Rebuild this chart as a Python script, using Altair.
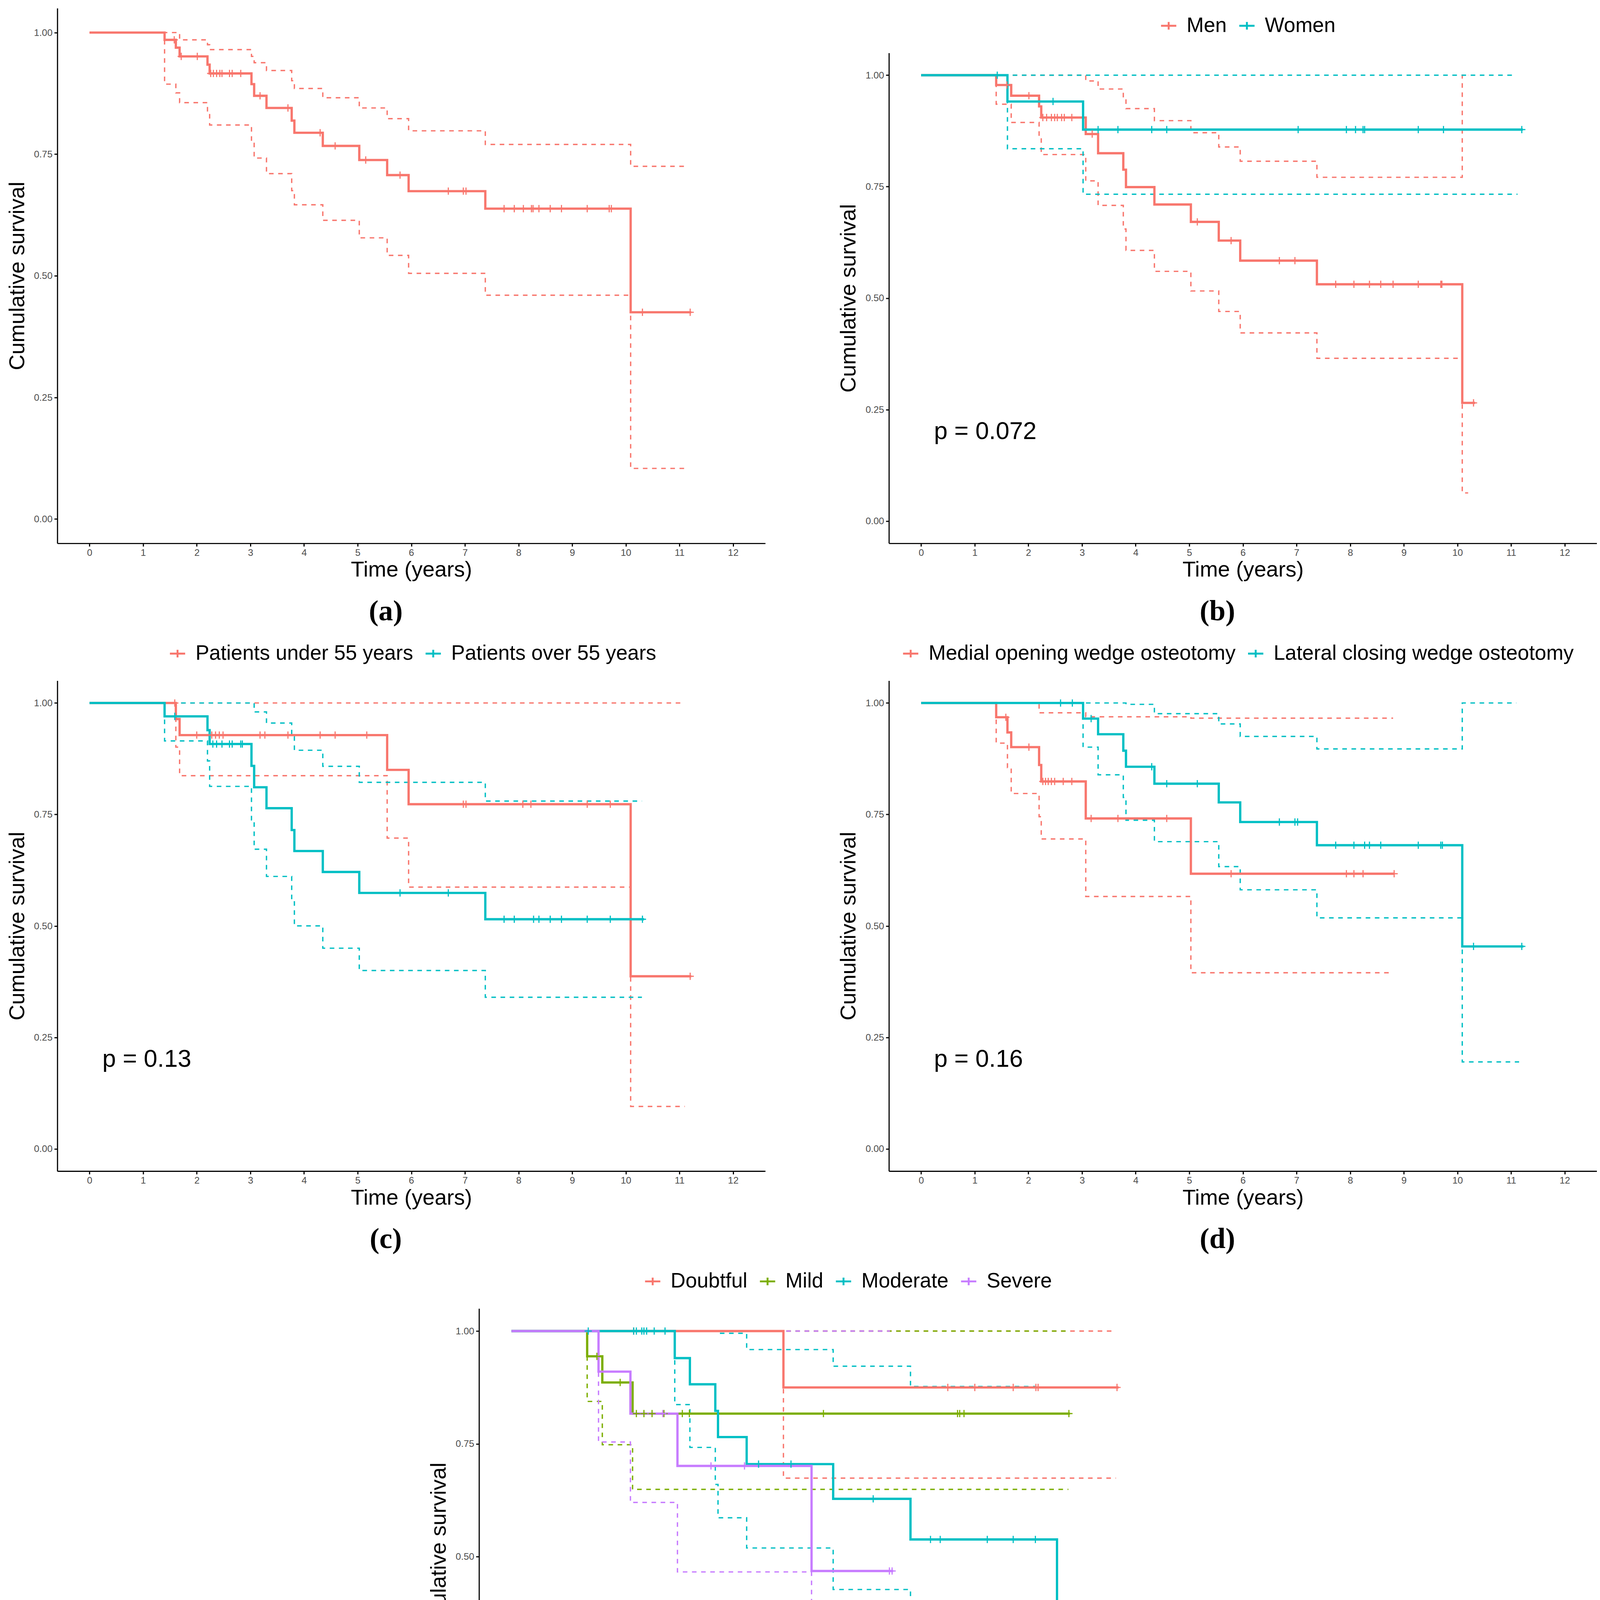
import altair as alt
import pandas as pd

FONT = "Liberation Sans"
SERIF = "Liberation Serif"
RED, GREEN, CYAN, PURPLE = "#F8766D", "#7CAE00", "#00BFC4", "#C77CFF"

# ---------------- Panel (a): whole cohort ----------------
a_t = [0, 1.40, 1.61, 1.68, 2.20, 2.24, 3.02, 3.07, 3.30, 3.77, 3.82, 4.35, 5.03, 5.55, 5.95, 7.38, 10.09, 11.22]
a_s = [1.0, 0.985, 0.969, 0.951, 0.934, 0.916, 0.894, 0.870, 0.845, 0.819, 0.794, 0.767, 0.738, 0.707, 0.674, 0.638, 0.425, 0.425]
a_cens = [1.58, 1.71, 2.01, 2.26, 2.31, 2.37, 2.43, 2.47, 2.61, 2.66, 2.82, 3.18, 3.70, 4.30, 4.58, 5.15, 5.79,
          6.69, 6.97, 7.02, 7.73, 7.92, 8.09, 8.24, 8.27, 8.38, 8.59, 8.80, 9.28, 9.69, 9.73, 10.31, 11.20]
a_up_t = [0, 1.61, 1.68, 2.20, 2.24, 3.02, 3.07, 3.30, 3.77, 3.82, 4.35, 5.03, 5.55, 5.95, 7.38, 10.09, 11.10]
a_up_s = [1.0, 0.997, 0.985, 0.975, 0.965, 0.951, 0.938, 0.922, 0.901, 0.885, 0.866, 0.845, 0.823, 0.798, 0.770, 0.725, 0.725]
a_lo_t = [0, 1.40, 1.61, 1.68, 2.20, 2.24, 3.02, 3.07, 3.30, 3.77, 3.82, 4.35, 5.03, 5.55, 5.95, 7.38, 10.09, 11.10]
a_lo_s = [1.0, 0.894, 0.876, 0.856, 0.835, 0.810, 0.775, 0.742, 0.710, 0.675, 0.646, 0.614, 0.578, 0.542, 0.505, 0.460, 0.104, 0.104]

# ---------------- Panel (b): sex ----------------
b_men_t = [0, 1.40, 1.68, 2.20, 2.24, 3.07, 3.30, 3.77, 3.82, 4.35, 5.03, 5.55, 5.95, 7.38, 10.09, 10.33]
b_men_s = [1.0, 0.978, 0.954, 0.930, 0.905, 0.868, 0.825, 0.788, 0.749, 0.710, 0.671, 0.629, 0.584, 0.531, 0.265, 0.265]
b_men_cens = [1.60, 2.01, 2.27, 2.34, 2.43, 2.49, 2.54, 2.62, 2.67, 2.81, 3.19, 5.15, 5.78, 6.68, 6.97,
              7.73, 8.07, 8.36, 8.57, 8.80, 9.27, 9.69, 9.71, 10.30]
b_men_up_t = [0, 3.07, 3.30, 3.77, 3.82, 4.35, 5.03, 5.55, 5.95, 7.38, 10.09, 10.20]
b_men_up_s = [1.0, 0.987, 0.969, 0.950, 0.925, 0.898, 0.871, 0.839, 0.807, 0.771, 1.0, 1.0]
b_men_lo_t = [0, 1.40, 1.68, 2.20, 2.24, 3.07, 3.30, 3.77, 3.82, 4.35, 5.03, 5.55, 5.95, 7.38, 10.09, 10.20]
b_men_lo_s = [1.0, 0.935, 0.894, 0.860, 0.822, 0.763, 0.708, 0.655, 0.607, 0.560, 0.516, 0.470, 0.422, 0.365, 0.063, 0.063]
b_wom_t = [0, 1.61, 3.02, 11.22]
b_wom_s = [1.0, 0.941, 0.878, 0.878]
b_wom_cens = [1.42, 2.46, 3.30, 3.67, 4.30, 4.58, 7.03, 7.93, 8.10, 8.24, 8.27, 9.27, 9.74, 11.20]
b_wom_up_t = [0, 11.10]
b_wom_up_s = [1.0, 1.0]
b_wom_lo_t = [0, 1.61, 3.02, 11.12]
b_wom_lo_s = [1.0, 0.835, 0.733, 0.733]

# ---------------- Panel (c): age ----------------
c_u55_t = [0, 1.61, 1.68, 5.55, 5.95, 10.09, 11.22]
c_u55_s = [1.0, 0.964, 0.928, 0.850, 0.773, 0.387, 0.387]
c_u55_cens = [1.59, 2.00, 2.28, 2.35, 2.42, 2.49, 3.18, 3.27, 3.70, 4.30, 4.58, 5.17, 6.97, 7.02, 8.08, 8.23,
              9.28, 9.71, 11.20]
c_u55_up_t = [0, 11.10]
c_u55_up_s = [1.0, 1.0]
c_u55_lo_t = [0, 1.61, 1.68, 5.55, 5.95, 10.09, 11.10]
c_u55_lo_s = [1.0, 0.901, 0.837, 0.697, 0.587, 0.095, 0.095]
c_o55_t = [0, 1.40, 2.20, 2.24, 3.02, 3.07, 3.30, 3.77, 3.82, 4.35, 5.03, 7.38, 10.34]
c_o55_s = [1.0, 0.970, 0.939, 0.908, 0.859, 0.811, 0.764, 0.715, 0.668, 0.621, 0.574, 0.515, 0.515]
c_o55_cens = [1.59, 2.30, 2.37, 2.47, 2.61, 2.66, 2.82, 2.85, 5.79, 6.69, 7.73, 7.92, 8.28, 8.38, 8.59, 8.80,
              9.28, 9.71, 10.31]
c_o55_up_t = [0, 3.07, 3.30, 3.77, 3.82, 4.35, 5.03, 7.38, 10.30]
c_o55_up_s = [1.0, 0.980, 0.955, 0.925, 0.894, 0.858, 0.822, 0.780, 0.780]
c_o55_lo_t = [0, 1.40, 2.20, 2.24, 3.02, 3.07, 3.30, 3.77, 3.82, 4.35, 5.03, 7.38, 10.30]
c_o55_lo_s = [1.0, 0.915, 0.870, 0.813, 0.738, 0.672, 0.611, 0.554, 0.500, 0.450, 0.400, 0.340, 0.340]

# ---------------- Panel (d): osteotomy type ----------------
d_med_t = [0, 1.40, 1.61, 1.68, 2.20, 2.24, 3.07, 5.03, 8.83]
d_med_s = [1.0, 0.968, 0.934, 0.901, 0.861, 0.824, 0.741, 0.617, 0.617]
d_med_cens = [1.58, 2.01, 2.27, 2.32, 2.37, 2.43, 2.49, 2.65, 2.81, 3.17, 3.67, 4.58, 5.78, 7.93, 8.07, 8.24, 8.82]
d_med_up_t = [0, 2.20, 3.07, 5.03, 8.80]
d_med_up_s = [1.0, 0.978, 0.969, 0.966, 0.966]
d_med_lo_t = [0, 1.40, 1.61, 1.68, 2.20, 2.24, 3.07, 5.03, 8.80]
d_med_lo_s = [1.0, 0.910, 0.855, 0.797, 0.745, 0.695, 0.566, 0.395, 0.395]
d_lat_t = [0, 3.02, 3.30, 3.77, 3.82, 4.35, 5.55, 5.95, 7.38, 10.09, 11.23]
d_lat_s = [1.0, 0.965, 0.930, 0.893, 0.857, 0.819, 0.777, 0.733, 0.681, 0.454, 0.454]
d_lat_cens = [2.60, 2.82, 3.17, 4.30, 4.58, 5.15, 6.68, 6.97, 7.02, 7.73, 8.07, 8.27, 8.36, 8.57, 9.27, 9.69,
              9.72, 10.30, 11.20]
d_lat_up_t = [0, 3.82, 4.35, 5.55, 5.95, 7.38, 10.09, 11.10]
d_lat_up_s = [1.0, 0.997, 0.976, 0.953, 0.925, 0.897, 1.0, 1.0]
d_lat_lo_t = [0, 3.02, 3.30, 3.77, 3.82, 4.35, 5.55, 5.95, 7.38, 10.09, 11.15]
d_lat_lo_s = [1.0, 0.901, 0.839, 0.788, 0.737, 0.689, 0.633, 0.581, 0.518, 0.195, 0.195]

# ---------------- Panel (e): arthrosis grade ----------------
e_dou_t = [0, 5.03, 11.23]
e_dou_s = [1.0, 0.875, 0.875]
e_dou_cens = [2.26, 8.07, 8.57, 9.28, 9.70, 9.74, 11.20]
e_dou_up_t = [0, 11.13]
e_dou_up_s = [1.0, 1.0]
e_dou_lo_t = [0, 5.03, 11.18]
e_dou_lo_s = [1.0, 0.674, 0.674]
e_mil_t = [0, 1.40, 1.68, 2.24, 10.33]
e_mil_s = [1.0, 0.944, 0.886, 0.817, 0.817]
e_mil_cens = [1.58, 2.01, 2.31, 2.45, 2.60, 2.82, 3.16, 3.29, 5.77, 8.25, 8.29, 8.37, 10.31]
e_mil_up_t = [0, 10.30]
e_mil_up_s = [1.0, 1.0]
e_mil_lo_t = [0, 1.40, 1.68, 2.24, 10.30]
e_mil_lo_s = [1.0, 0.844, 0.748, 0.649, 0.649]
e_mod_t = [0, 3.02, 3.30, 3.77, 3.82, 4.35, 5.95, 7.38, 10.09]
e_mod_s = [1.0, 0.940, 0.882, 0.823, 0.765, 0.705, 0.628, 0.538, 0.0]
e_mod_cens = [1.42, 2.26, 2.31, 2.41, 2.45, 2.50, 2.64, 2.84, 4.57, 5.17, 6.69, 7.75, 7.93, 8.80, 9.28, 9.69]
e_mod_up_t = [0, 3.82, 4.35, 5.95, 7.38, 9.69]
e_mod_up_s = [1.0, 0.995, 0.959, 0.922, 0.877, 0.877]
e_mod_lo_t = [0, 3.02, 3.30, 3.77, 3.82, 4.35, 5.95, 7.38, 9.69]
e_mod_lo_s = [1.0, 0.837, 0.742, 0.660, 0.586, 0.519, 0.427, 0.329, 0.329]
e_sev_t = [0, 1.61, 2.20, 3.07, 5.55, 7.06]
e_sev_s = [1.0, 0.910, 0.817, 0.701, 0.468, 0.468]
e_sev_cens = [2.80, 3.69, 4.31, 6.99, 7.04]
e_sev_up_t = [0, 7.00]
e_sev_up_s = [1.0, 1.0]
e_sev_lo_t = [0, 1.61, 2.20, 3.07, 5.55, 7.00]
e_sev_lo_s = [1.0, 0.754, 0.620, 0.466, 0.191, 0.191]

x_ticks = list(range(13))
y_ticks = [0.0, 0.25, 0.5, 0.75, 1.0]

CROSS = "M-1,0L1,0M0,-1L0,1"
LEG_SYM = "M-1,0L1,0M0,-0.5L0,0.5"
LEG_ROOM = 117   # room above the plot frame kept for the legend


def surv_at(ts, ss, t):
    v = ss[0]
    for ti, si in zip(ts, ss):
        if ti <= t:
            v = si
    return v


def series(name, color, t, s, cens, up_t, up_s, lo_t, lo_s):
    return dict(name=name, color=color, t=t, s=s, cens=cens,
                up_t=up_t, up_s=up_s, lo_t=lo_t, lo_s=lo_s)


def build(groups):
    cur, ci, cen = [], [], []
    for g in groups:
        for t, s in zip(g["t"], g["s"]):
            cur.append({"group": g["name"], "t": t, "s": s})
        for b, tt, sv in (("upper", g["up_t"], g["up_s"]), ("lower", g["lo_t"], g["lo_s"])):
            for t, s in zip(tt, sv):
                ci.append({"group": g["name"], "bound": b, "t": t, "s": s})
        for t in g["cens"]:
            cen.append({"group": g["name"], "t": t, "s": surv_at(g["t"], g["s"], t)})
    return pd.DataFrame(cur), pd.DataFrame(ci), pd.DataFrame(cen)


def panel(groups, width, height, label, pval=None, legend_x=None):
    cur, ci, cen = build(groups)
    names = [g["name"] for g in groups]
    cols = [g["color"] for g in groups]
    top = 0 if legend_x is None else LEG_ROOM
    x = alt.X("t:Q", scale=alt.Scale(domain=[-0.6, 12.6], nice=False, zero=False),
              axis=alt.Axis(values=x_ticks, format="d", title="Time (years)"))
    y = alt.Y("s:Q", scale=alt.Scale(domain=[-0.05, 1.05], nice=False, zero=False, range=[height, top]),
              axis=alt.Axis(values=y_ticks, format=".2f", title="Cumulative survival"))
    if legend_x is None:
        leg = None
    else:
        leg = alt.Legend(orient="none", legendX=legend_x, legendY=top - 98,
                         direction="horizontal", title=None, labelFont=FONT, labelFontSize=54,
                         labelColor="black", labelLimit=3000, symbolType=LEG_SYM, symbolSize=1600,
                         symbolStrokeWidth=5, labelOffset=20, columnPadding=22, padding=0)
    color = alt.Color("group:N", scale=alt.Scale(domain=names, range=cols), legend=leg)
    ci_l = alt.Chart(ci).mark_line(interpolate="step-after", strokeDash=[12, 12], strokeWidth=3.5).encode(
        x=x, y=y, color=color, detail="bound:N")
    cur_l = alt.Chart(cur).mark_line(interpolate="step-after", strokeWidth=6).encode(x=x, y=y, color=color)
    cen_l = alt.Chart(cen).mark_point(shape=CROSS, size=361, filled=False, strokeWidth=3, opacity=1).encode(
        x=x, y=y, color=color)
    layers = [ci_l, cur_l, cen_l]
    if pval is not None:
        pdf = pd.DataFrame({"t": [0.24], "s": [0.2], "label": [pval]})
        layers.append(alt.Chart(pdf).mark_text(align="left", baseline="middle", font=FONT, fontSize=64,
                                               color="black").encode(x=x, y=y, text="label:N"))
    return alt.layer(*layers).properties(
        width=width, height=height,
        title=alt.TitleParams(text=label, orient="bottom", frame="bounds", anchor="middle", font=SERIF,
                              fontSize=76, fontWeight="bold", color="black", offset=44))


H = 1402
W = 1855
pa = panel([series("All", RED, a_t, a_s, a_cens, a_up_t, a_up_s, a_lo_t, a_lo_s)], W, H, "(a)")
pb = panel([series("Men", RED, b_men_t, b_men_s, b_men_cens, b_men_up_t, b_men_up_s, b_men_lo_t, b_men_lo_s),
            series("Women", CYAN, b_wom_t, b_wom_s, b_wom_cens, b_wom_up_t, b_wom_up_s, b_wom_lo_t, b_wom_lo_s)],
           W, H, "(b)", pval="p = 0.072", legend_x=706)
pc = panel([series("Patients under 55 years", RED, c_u55_t, c_u55_s, c_u55_cens, c_u55_up_t, c_u55_up_s,
                   c_u55_lo_t, c_u55_lo_s),
            series("Patients over 55 years", CYAN, c_o55_t, c_o55_s, c_o55_cens, c_o55_up_t, c_o55_up_s,
                   c_o55_lo_t, c_o55_lo_s)],
           W, H, "(c)", pval="p = 0.13", legend_x=288)
pd_ = panel([series("Medial opening wedge osteotomy", RED, d_med_t, d_med_s, d_med_cens, d_med_up_t, d_med_up_s,
                    d_med_lo_t, d_med_lo_s),
             series("Lateral closing wedge osteotomy", CYAN, d_lat_t, d_lat_s, d_lat_cens, d_lat_up_t, d_lat_up_s,
                    d_lat_lo_t, d_lat_lo_s)],
            W, H, "(d)", pval="p = 0.16", legend_x=30)
pe = panel([series("Doubtful", RED, e_dou_t, e_dou_s, e_dou_cens, e_dou_up_t, e_dou_up_s, e_dou_lo_t, e_dou_lo_s),
            series("Mild", GREEN, e_mil_t, e_mil_s, e_mil_cens, e_mil_up_t, e_mil_up_s, e_mil_lo_t, e_mil_lo_s),
            series("Moderate", CYAN, e_mod_t, e_mod_s, e_mod_cens, e_mod_up_t, e_mod_up_s, e_mod_lo_t, e_mod_lo_s),
            series("Severe", PURPLE, e_sev_t, e_sev_s, e_sev_cens, e_sev_up_t, e_sev_up_s, e_sev_lo_t, e_sev_lo_s)],
           1870, 1417, "(e)", pval="p = 0.25", legend_x=428)

# invisible spacer that pushes panel (e) to its place in the bottom row
spacer = alt.Chart(pd.DataFrame({"v": [0]})).mark_point(opacity=0).encode(
    x=alt.X("v:Q", axis=None), y=alt.Y("v:Q", axis=None)).properties(width=961, height=10)

top_row = alt.hconcat(pa, pb, spacing=190).resolve_scale(color="independent").resolve_legend(color="independent")
mid_row = alt.hconcat(pc, pd_, spacing=190).resolve_scale(color="independent").resolve_legend(color="independent")
bot_row = alt.hconcat(spacer, pe, spacing=10).resolve_scale(color="independent").resolve_legend(color="independent")
chart = alt.vconcat(top_row, mid_row, bot_row, spacing=26).resolve_scale(
    color="independent").resolve_legend(color="independent").properties(
    padding={"left": 8, "top": -44, "right": 0, "bottom": 0}
).configure_axis(
    domainColor="black", domainWidth=3, tickColor="black", tickWidth=3, tickSize=8,
    labelColor="#4D4D4D", labelFontSize=25, labelFont=FONT, labelPadding=4,
    titleFont=FONT, titleFontSize=57, titleFontWeight="normal", titleColor="black", grid=False
).configure_axisY(titlePadding=14, labelPadding=5).configure_axisX(titlePadding=5).configure_view(stroke=None)

chart.save("out.html", embed_options={"renderer": "svg", "actions": False})
